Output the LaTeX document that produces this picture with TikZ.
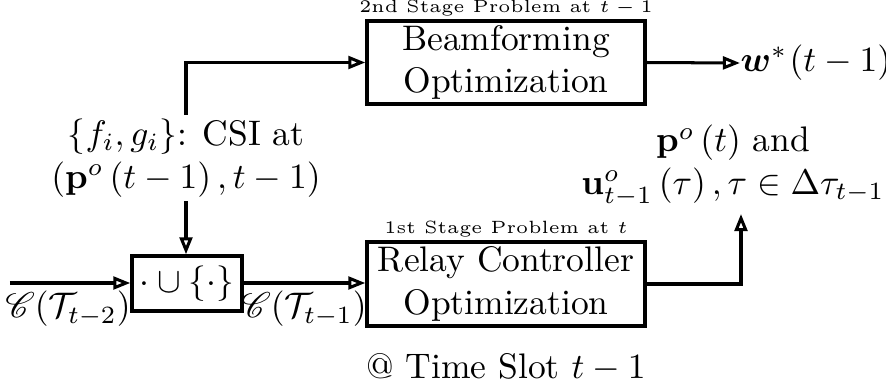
\documentclass[tikz,border=0pt]{standalone}
\usepackage{amsmath,amssymb,mathrsfs,bm}
\usetikzlibrary{arrows.meta,calc}
\begin{document}
\def\u{0.2817pt}
\begin{tikzpicture}[x=\u,y=-\u,
  box/.style={draw,line width=0.95pt,align=center,inner sep=0pt},
  conn/.style={line width=0.85pt,-{Triangle[open,length=4.8pt,width=3.6pt,line width=0.85pt]}},
  lbl/.style={align=center,inner sep=1pt}]
\useasboundingbox (0,0) rectangle (886,389);
\node[box,minimum width={278*\u},minimum height={83*\u}] (beam) at (506,62.5) {Beamforming\\Optimization};
\node[lbl,font=\tiny] (beamlbl) at (506,8.5) {2nd Stage Problem at $t-1$};
\node[box,minimum width={278*\u},minimum height={84*\u}] (relay) at (506,284) {Relay Controller\\Optimization};
\node[lbl,font=\tiny] (relaylbl) at (506,229) {1st Stage Problem at $t$};
\node[box,minimum width={110*\u},minimum height={55*\u}] (union) at (187,283.5) {$\cdot\cup\left\{\cdot\right\}$};
\node[lbl] (csi) at (186,158) {$\{f_i,g_i\}$: CSI at\\$\left(\mathbf{p}^o\left(t-1\right),t-1\right)$};
\node[lbl,anchor=west,inner sep=0pt] (wout) at (740,63) {$\bm{w}^*\mkern1mu(t-1)$};
\node[lbl,anchor=south,inner sep=0pt] (out) at (733,207) {$\mathbf{p}^o\left(t\right)$ and\\$\mathbf{u}^o_{t-1}\left(\tau\right),\tau\in\Delta\tau_{t-1}$};
\coordinate (outtip) at (741,214);
\node[lbl] (slot) at (506,367) {@ Time Slot $t-1$};
\coordinate (in) at (10,283);
\node[lbl,anchor=north] (ct2) at (68,287) {$\mathscr{C}(\mathcal{T}_{t-2})$};
\node[lbl,anchor=north] (ct1) at (304,287) {$\mathscr{C}(\mathcal{T}_{t-1})$};
\draw[conn] (in) -- (in -| union.west);
\draw[conn] (union.east |- in) -- (relay.west |- in);
\draw[conn] (csi.north) |- (beam.west);
\draw[conn] (csi.south) -- (csi.south |- union.north);
\draw[conn] (beam.east) -- (wout.west);
\draw[conn] (relay.east) -| (outtip);
\end{tikzpicture}
\end{document}
